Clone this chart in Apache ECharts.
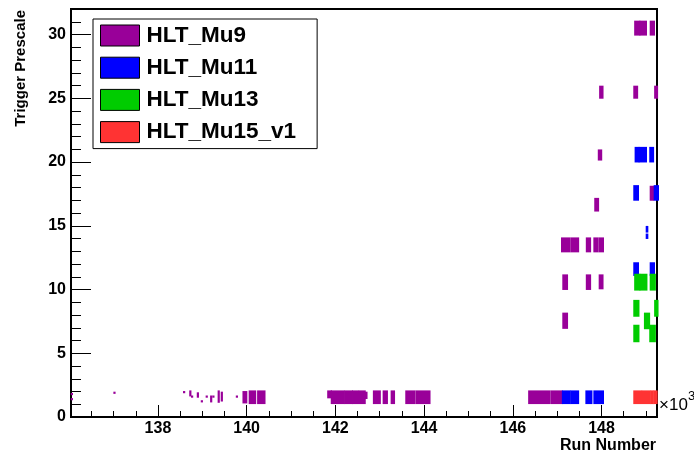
<!DOCTYPE html>
<html>
<head>
<meta charset="utf-8">
<script src="https://cdn.jsdelivr.net/npm/echarts@6/dist/echarts.min.js"></script>
<style>
  html, body { margin: 0; padding: 0; background: #fff; }
  #chart { width: 694px; height: 454px; }
</style>
</head>
<body>
<div id="chart"></div>
<script>
// trigger names + colours
const triggers = ['HLT_Mu9', 'HLT_Mu11', 'HLT_Mu13', 'HLT_Mu15_v1']
const colors = ['#990099', '#0000ff', '#00cc00', '#ff3333']

// each entry: [run from, run to, prescale low, prescale high]
const mu9 = [
    [136060, 136060, 1.8, 1.8], [136060, 136060, 1.4, 1.4],
    [137020, 137020, 1.9, 1.9],
    [138590, 138590, 1.95, 1.95], [138730, 138730, 1.7, 2.0], [138770, 138770, 1.6, 1.6],
    [138900, 138900, 1.6, 1.85], [138990, 138990, 1.23, 1.23], [139100, 139100, 1.6, 1.6],
    [139200, 139200, 1.23, 1.6], [139250, 139250, 1.6, 1.6],
    [139370, 139370, 1.2, 2.0], [139440, 139440, 1.3, 1.9],
    [139780, 139780, 1.6, 1.6], [139930, 139990, 1.15, 1.95],
    [140070, 140190, 1.1, 2.0], [140260, 140400, 1.1, 2.0],
    [141840, 141900, 1.55, 2.0], [141920, 142180, 1.1, 2.0], [142220, 142370, 1.1, 2.0],
    [142400, 142510, 1.1, 2.0], [142550, 142660, 1.1, 2.0], [142690, 142700, 1.5, 1.9],
    [142870, 143000, 1.1, 2.0], [143090, 143160, 1.1, 2.0], [143270, 143320, 1.1, 2.0],
    [143600, 143780, 1.1, 2.0], [143830, 144120, 1.1, 2.0],
    [146370, 146820, 1.1, 2.0], [146870, 147100, 1.1, 2.0],
    [147140, 147220, 7.0, 8.1],
    [147140, 147220, 10.05, 11.1], [147670, 147740, 10.05, 11.1], [147960, 148020, 10.1, 11.1],
    [147110, 147270, 13.0, 14.0], [147320, 147470, 13.0, 14.0], [147670, 147740, 13.0, 14.0],
    [147840, 147910, 13.0, 14.0], [147960, 148030, 13.0, 14.0],
    [147860, 147920, 16.2, 17.1],
    [149110, 149160, 17.05, 18.05],
    [147940, 147990, 20.2, 20.9],
    [147970, 148020, 25.05, 25.9], [148740, 148800, 25.05, 25.9], [149210, 149250, 25.05, 25.9],
    [148760, 148850, 30.0, 31.0], [148880, 149000, 30.0, 31.0], [149110, 149180, 30.0, 31.0]
]

const mu11 = [
    [147130, 147280, 1.1, 2.0], [147320, 147470, 1.1, 2.0], [147660, 147770, 1.1, 2.0],
    [147840, 148030, 1.1, 2.0],
    [148740, 148820, 11.15, 12.05], [149110, 149180, 11.15, 12.05],
    [149020, 149030, 14.05, 14.3], [149020, 149030, 14.55, 14.9],
    [148740, 148820, 17.05, 18.1], [149200, 149270, 17.05, 18.1],
    [148770, 148830, 20.05, 21.1], [148860, 149000, 20.05, 21.1], [149100, 149160, 20.05, 21.1]
]

const mu13 = [
    [148740, 148830, 5.95, 7.15], [149100, 149200, 5.95, 7.15],
    [148980, 149070, 6.97, 8.1],
    [148740, 148830, 7.95, 9.1], [149210, 149260, 7.95, 9.1],
    [148760, 148850, 10.0, 11.15], [148880, 149010, 10.0, 11.15], [149110, 149200, 10.0, 11.15]
]

const mu15 = [
    [148740, 148890, 1.1, 2.0], [148930, 149080, 1.1, 2.0], [149120, 149150, 1.1, 2.0],
    [149190, 149240, 1.1, 2.0]
]

const xMajor = [138000, 140000, 142000, 144000, 146000, 148000]
const xMinor = [136500, 137000, 137500, 138500, 139000, 139500, 140500, 141000, 141500,
    142500, 143000, 143500, 144500, 145000, 145500, 146500, 147000, 147500, 148500, 149000]
const yMajor = [0, 5, 10, 15, 20, 25, 30]
const yMinor = [1, 2, 3, 4, 6, 7, 8, 9, 11, 12, 13, 14, 16, 17, 18, 19,
    21, 22, 23, 24, 26, 27, 28, 29, 31]

const font = 'Liberation Sans'

const renderCluster = (params, api) => {
    const a = api.coord([api.value(0), api.value(3)])
    const b = api.coord([api.value(1), api.value(2)])
    const w = Math.max(b[0] - a[0], 0)
    const h = Math.max(b[1] - a[1], 0)
    return {
        type: 'rect',
        shape: { x: a[0] - 1.1, y: a[1] - 1.1, width: w + 2.2, height: h + 2.2 },
        style: { fill: api.visual('color') }
    }
}

const chart = echarts.init(document.getElementById('chart'))

const xBase = {
    type: 'value', min: 136040, max: 149250, position: 'bottom',
    splitLine: { show: false }
}
const yBase = {
    type: 'value', min: 0, max: 32, position: 'left',
    splitLine: { show: false }
}

chart.setOption({
    animation: false,
    grid: {
        left: 71, right: 37, top: 9, bottom: 37,
        show: true, borderColor: '#000', borderWidth: 2
    },
    legend: {
        orient: 'vertical', left: 93, top: 19,
        padding: [5, 21, 5, 7],
        itemWidth: 39, itemHeight: 21, itemGap: 9.2,
        icon: 'rect',
        backgroundColor: '#fff', borderColor: '#000', borderWidth: 1,
        itemStyle: { borderColor: '#000', borderWidth: 1 },
        textStyle: {
            fontFamily: font, fontWeight: 'bold', fontSize: 22.5, color: '#000',
            padding: [0, 0, 0, 2]
        },
        data: triggers
    },
    xAxis: [
        Object.assign({}, xBase, {
            axisLine: { lineStyle: { color: '#000', width: 2 } },
            axisTick: { inside: true, length: 12, customValues: xMajor, lineStyle: { color: '#000' } },
            axisLabel: {
                customValues: xMajor, margin: 4,
                formatter: v => String(v / 1000),
                fontFamily: font, fontWeight: 'bold', fontSize: 16, color: '#000'
            }
        }),
        Object.assign({}, xBase, {
            axisLine: { show: false },
            axisTick: { inside: true, length: 6, customValues: xMinor, lineStyle: { color: '#000' } },
            axisLabel: { show: false }
        })
    ],
    yAxis: [
        Object.assign({}, yBase, {
            axisLine: { lineStyle: { color: '#000', width: 2 } },
            axisTick: { inside: true, length: 20, customValues: yMajor, lineStyle: { color: '#000' } },
            axisLabel: {
                customValues: yMajor, margin: 5,
                fontFamily: font, fontWeight: 'bold', fontSize: 16, color: '#000'
            }
        }),
        Object.assign({}, yBase, {
            axisLine: { show: false },
            axisTick: { inside: true, length: 10, customValues: yMinor, lineStyle: { color: '#000' } },
            axisLabel: { show: false }
        })
    ],
    graphic: [
        {
            type: 'text', x: 21, y: 10, rotation: Math.PI / 2,
            style: {
                text: 'Trigger Prescale', align: 'right', verticalAlign: 'middle',
                font: 'bold 15px "Liberation Sans"', fill: '#000'
            }
        },
        {
            type: 'text', x: 656, y: 446,
            style: {
                text: 'Run Number', align: 'right', verticalAlign: 'middle',
                font: 'bold 16px "Liberation Sans"', fill: '#000'
            }
        },
        {
            type: 'text', x: 659, y: 405,
            style: { text: '×10', align: 'left', verticalAlign: 'middle', font: '17px "Liberation Sans"', fill: '#000' }
        },
        {
            type: 'text', x: 688, y: 396,
            style: { text: '3', align: 'left', verticalAlign: 'middle', font: '13px "Liberation Sans"', fill: '#000' }
        }
    ],
    series: [mu9, mu11, mu13, mu15].map((d, i) => ({
        name: triggers[i],
        type: 'custom',
        xAxisIndex: 0, yAxisIndex: 0,
        color: colors[i],
        itemStyle: { color: colors[i] },
        encode: { x: [0, 1], y: [2, 3] },
        renderItem: renderCluster,
        data: d
    }))
})
</script>
</body>
</html>
